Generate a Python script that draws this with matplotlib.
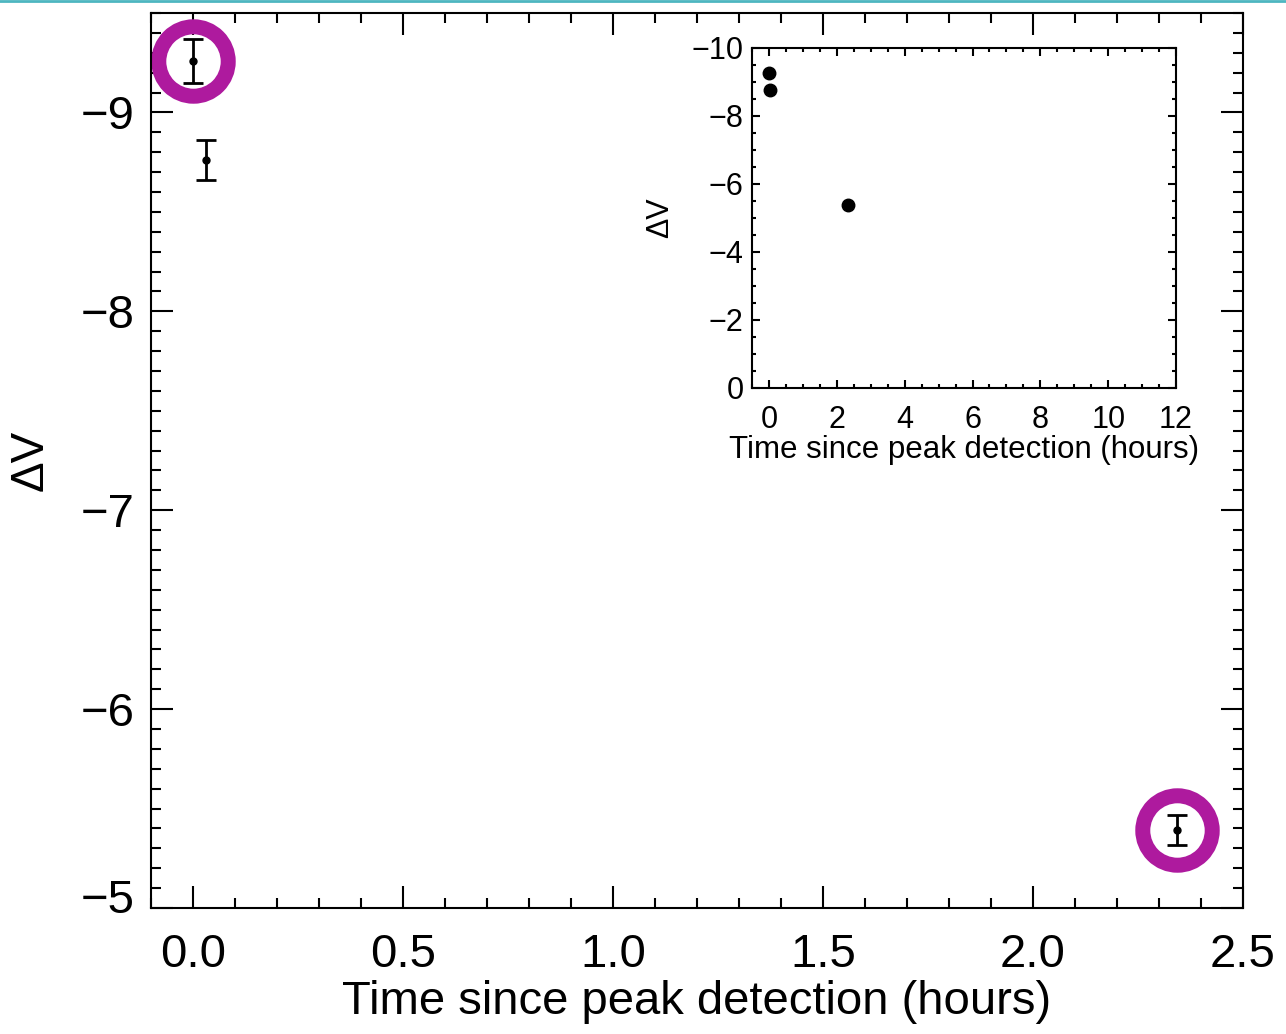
import matplotlib
matplotlib.use("Agg")
import matplotlib.pyplot as plt
import matplotlib.transforms as mtransforms
from matplotlib.ticker import MultipleLocator

plt.rcParams['font.family'] = ['Liberation Sans', 'DejaVu Sans']

# Photometry: time since peak (hours) vs. magnitude change
t_hours = [0.0, 0.031, 2.343]
delta_v = [-9.26, -8.76, -5.39]
dv_err = [0.11, 0.10, 0.075]

# Points flagged with a ring
flag_t = [0.0, 2.343]
flag_dv = [-9.26, -5.39]

ring_color = '#AE1A9E'

fig = plt.figure(figsize=(12.86, 10.34), dpi=100)

# main panel
ax = fig.add_axes([0.1174, 0.1219, 0.8492, 0.8655])
ax.errorbar(t_hours, delta_v, yerr=dv_err, fmt='o', color='black',
            markersize=5, elinewidth=2, capsize=7, capthick=2)
ax.plot(flag_t, flag_dv, 'o', markersize=50, markerfacecolor='none',
        markeredgecolor=ring_color, markeredgewidth=10.8)
ax.set_xlim(-0.1, 2.5)
ax.set_ylim(-5.0, -9.5)
ax.xaxis.set_major_locator(MultipleLocator(0.5))
ax.xaxis.set_minor_locator(MultipleLocator(0.1))
ax.yaxis.set_major_locator(MultipleLocator(1))
ax.yaxis.set_minor_locator(MultipleLocator(0.1))
ax.xaxis.set_major_formatter(lambda v, p: f"{v:.1f}")
ax.yaxis.set_major_formatter(lambda v, p: f"\u2212{abs(v):.0f}")
ax.tick_params(which='both', direction='in', top=True, right=True, width=1.5)
ax.tick_params(which='major', length=16, labelsize=34, pad=12)
ax.tick_params(which='minor', length=7.5)
ax.tick_params(axis='x', pad=18)
for s in ax.spines.values():
    s.set_linewidth(1.5)
ax.set_xlabel('Time since peak detection (hours)', fontsize=34, labelpad=2)
ax.set_ylabel('\u0394V', fontsize=33, labelpad=20)

# lift the bottom y label clear of the x axis
fig.canvas.draw()
for lab in ax.get_yticklabels():
    if lab.get_text() == "\u22125":
        lab.set_transform(lab.get_transform() +
                          mtransforms.ScaledTranslation(0, 12 / 100, fig.dpi_scale_trans))

# inset with the full time range
ins = fig.add_axes([0.5848, 0.6248, 0.3297, 0.3288])
ins.plot(t_hours, delta_v, 'o', color='black', markersize=9)
ins.set_xlim(-0.5, 12)
ins.set_ylim(0, -10)
ins.xaxis.set_major_locator(MultipleLocator(2))
ins.xaxis.set_minor_locator(MultipleLocator(0.5))
ins.yaxis.set_major_locator(MultipleLocator(2))
ins.yaxis.set_minor_locator(MultipleLocator(0.5))
ins.yaxis.set_major_formatter(lambda v, p: "0" if v == 0 else f"\u2212{abs(v):.0f}")
ins.tick_params(which='both', direction='in', top=True, right=True, width=1.5)
ins.tick_params(which='major', length=6, labelsize=22, pad=6)
ins.tick_params(which='minor', length=3)
ins.tick_params(axis='x', pad=12)
for s in ins.spines.values():
    s.set_linewidth(1.5)
ins.set_xlabel('Time since peak detection (hours)', fontsize=22.5, labelpad=0)
ins.set_ylabel('\u0394V', fontsize=22, labelpad=12)

# thin rule along the top edge
fig.add_artist(plt.Line2D([0, 1], [0.999, 0.999], color='#4DB6C0', linewidth=2))

fig.savefig('out.png', dpi=100)
